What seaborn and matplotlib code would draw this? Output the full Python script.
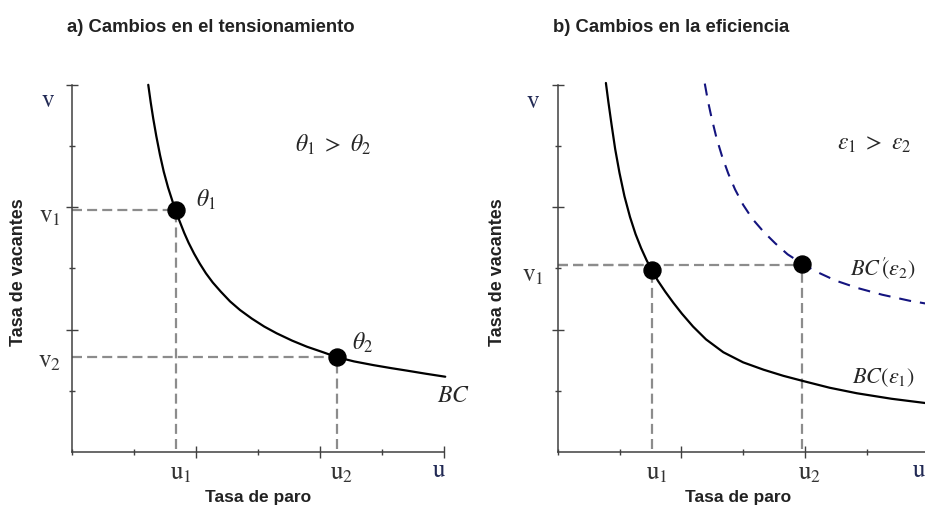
import matplotlib
matplotlib.use("Agg")
import matplotlib.pyplot as plt
import seaborn as sns

# a) curva de Beveridge y dos puntos de tensionamiento
bc_u = [1.23, 1.27, 1.31, 1.36, 1.42, 1.48, 1.55, 1.62, 1.67, 1.74, 1.81, 1.88,
        1.97, 2.06, 2.16, 2.27, 2.40, 2.55, 2.71, 2.90, 3.10, 3.30, 3.55, 3.79,
        4.05, 4.27, 4.55, 4.86, 5.15, 5.40, 5.70, 6.02]
bc_v = [6.00, 5.71, 5.45, 5.16, 4.85, 4.58, 4.32, 4.10, 3.95, 3.76, 3.58, 3.42,
        3.24, 3.08, 2.92, 2.77, 2.62, 2.46, 2.32, 2.18, 2.05, 1.94, 1.82, 1.72,
        1.63, 1.55, 1.48, 1.42, 1.37, 1.33, 1.28, 1.23]
theta_u = [1.67, 4.27]
theta_v = [3.95, 1.55]

# b) dos curvas segun eficiencia
bc1_u = [0.78, 0.82, 0.87, 0.93, 1.00, 1.08, 1.17, 1.26, 1.35, 1.44, 1.52, 1.62,
         1.74, 1.87, 2.01, 2.19, 2.40, 2.68, 3.00, 3.33, 3.65, 3.97, 4.40, 4.84,
         5.40, 5.95, 6.05]
bc1_v = [6.03, 5.72, 5.36, 4.95, 4.56, 4.18, 3.84, 3.56, 3.33, 3.13, 2.98, 2.80,
         2.62, 2.44, 2.26, 2.05, 1.84, 1.63, 1.465, 1.345, 1.245, 1.16, 1.05, 0.96,
         0.87, 0.80, 0.79]
bc2_u = [2.38, 2.43, 2.49, 2.57, 2.66, 2.76, 2.87, 3.00, 3.15, 3.33, 3.52, 3.72,
         3.95, 4.20, 4.50, 4.85, 5.25, 5.70, 6.05]
bc2_v = [6.02, 5.74, 5.46, 5.13, 4.83, 4.55, 4.29, 4.04, 3.81, 3.60, 3.41, 3.23,
         3.08, 2.94, 2.80, 2.68, 2.57, 2.47, 2.41]
eff_u = [1.52, 3.95]
eff_v = [2.98, 3.08]
v1_b = 3.05

sns.set_style("ticks")
plt.rcParams["font.family"] = ["Liberation Sans", "DejaVu Sans"]
plt.rcParams["mathtext.fontset"] = "stix"

AXC = "#404040"
GUIDE = "#8c8c8c"
NAVY = "#14147f"
LBL = "#222a55"
TXT = "#333333"


def style_axes(ax):
    ax.set_xlim(0, 6)
    ax.set_ylim(0, 6)
    sns.despine(ax=ax)
    for s in ["left", "bottom"]:
        ax.spines[s].set_color(AXC)
        ax.spines[s].set_linewidth(1.1)
    ax.set_xticks([2, 4, 6])
    ax.set_xticks([0, 1, 3, 5], minor=True)
    ax.set_yticks([2, 4, 6])
    ax.set_yticks([1, 3, 5], minor=True)
    ax.set_xticklabels([])
    ax.set_yticklabels([])
    ax.tick_params(which="major", direction="inout", length=9, width=1.0, color=AXC)
    ax.tick_params(which="minor", direction="inout", length=5, width=1.0, color=AXC)
    ax.set_xlabel("Tasa de paro", fontsize=12.5, fontweight="bold", color="#222222")
    ax.set_ylabel("Tasa de vacantes", fontsize=13, fontweight="bold", color="#222222")


def guide(ax, u, v_h, v_top):
    ax.plot([0, u], [v_h, v_h], color=GUIDE, lw=1.6, dashes=(4.5, 2.3), zorder=2)
    ax.plot([u, u], [0.05, v_top], color=GUIDE, lw=1.6, dashes=(4.5, 2.3), zorder=2)


fig = plt.figure(figsize=(9.25, 5.09), dpi=100)
ax1 = fig.add_axes([72 / 925, 57 / 509, 372 / 925, 367.2 / 509])
ax2 = fig.add_axes([557.7 / 925, 57 / 509, 370.8 / 925, 367.2 / 509])

# ---- panel a
style_axes(ax1)
for u, v in zip(theta_u, theta_v):
    guide(ax1, u, v, v)
sns.lineplot(x=bc_u, y=bc_v, ax=ax1, color="black", lw=1.6, sort=False,
             estimator=None, clip_on=False, zorder=3)
sns.scatterplot(x=theta_u, y=theta_v, ax=ax1, s=150, color="black",
                edgecolor="black", zorder=5, clip_on=False)
ax1.xaxis.set_label_coords(0.5, -0.103)
ax1.yaxis.set_label_coords(-0.121, 0.49)

ax1.text(-0.39, 5.75, r"$\mathrm{v}$", fontsize=18, color=LBL, ha="center", va="center")
ax1.text(-0.36, theta_v[0] - 0.10, r"$\mathrm{v}_1$", fontsize=18, color=TXT, ha="center", va="center")
ax1.text(-0.36, theta_v[1] - 0.06, r"$\mathrm{v}_2$", fontsize=18, color=TXT, ha="center", va="center")
ax1.text(theta_u[0] + 0.08, -0.35, r"$\mathrm{u}_1$", fontsize=18, color=TXT, ha="center", va="center")
ax1.text(theta_u[1] + 0.08, -0.35, r"$\mathrm{u}_2$", fontsize=18, color=TXT, ha="center", va="center")
ax1.text(5.92, -0.29, r"$\mathrm{u}$", fontsize=18, color=LBL, ha="center", va="center")
ax1.text(2.16, 4.12, r"$\theta_1$", fontsize=17, ha="center", va="center")
ax1.text(4.68, 1.78, r"$\theta_2$", fontsize=17, ha="center", va="center")
ax1.text(4.21, 5.02, r"$\theta_1\ >\ \theta_2$", fontsize=17, ha="center", va="center")
ax1.text(6.16, 0.92, r"$BC$", fontsize=17, ha="center", va="center")

# ---- panel b
style_axes(ax2)
guide(ax2, eff_u[0], v1_b, eff_v[0])
guide(ax2, eff_u[1], v1_b, eff_v[1])
sns.lineplot(x=bc2_u, y=bc2_v, ax=ax2, color=NAVY, lw=1.5, sort=False,
             estimator=None, clip_on=False, zorder=3)
ax2.lines[-1].set_dashes((5.8, 4.3))
sns.lineplot(x=bc1_u, y=bc1_v, ax=ax2, color="black", lw=1.6, sort=False,
             estimator=None, clip_on=False, zorder=3)
sns.scatterplot(x=eff_u, y=eff_v, ax=ax2, s=150, color="black",
                edgecolor="black", zorder=5, clip_on=False)
ax2.xaxis.set_label_coords(0.486, -0.103)
ax2.yaxis.set_label_coords(-0.139, 0.49)

ax2.text(-0.40, 5.74, r"$\mathrm{v}$", fontsize=18, color=LBL, ha="center", va="center")
ax2.text(-0.40, v1_b - 0.15, r"$\mathrm{v}_1$", fontsize=18, color=TXT, ha="center", va="center")
ax2.text(eff_u[0] + 0.09, -0.35, r"$\mathrm{u}_1$", fontsize=18, color=TXT, ha="center", va="center")
ax2.text(eff_u[1] + 0.13, -0.35, r"$\mathrm{u}_2$", fontsize=18, color=TXT, ha="center", va="center")
ax2.text(5.85, -0.29, r"$\mathrm{u}$", fontsize=18, color=LBL, ha="center", va="center")
ax2.text(5.12, 5.03, r"$\varepsilon_1\ >\ \varepsilon_2$", fontsize=17, ha="center", va="center")
ax2.text(4.73, 3.0, r"$BC^{\prime}\!\!(\varepsilon_2)$", fontsize=16, ha="left", va="center")
ax2.text(4.77, 1.21, r"$BC(\varepsilon_1)$", fontsize=16, ha="left", va="center")

fig.text(67 / 925, 1 - 27 / 509, "a) Cambios en el tensionamiento", fontsize=13.3,
         fontweight="bold", color="#222222", ha="left", va="center")
fig.text(553 / 925, 1 - 27 / 509, "b) Cambios en la eficiencia", fontsize=13.3,
         fontweight="bold", color="#222222", ha="left", va="center")

fig.savefig("out.png", dpi=100)
